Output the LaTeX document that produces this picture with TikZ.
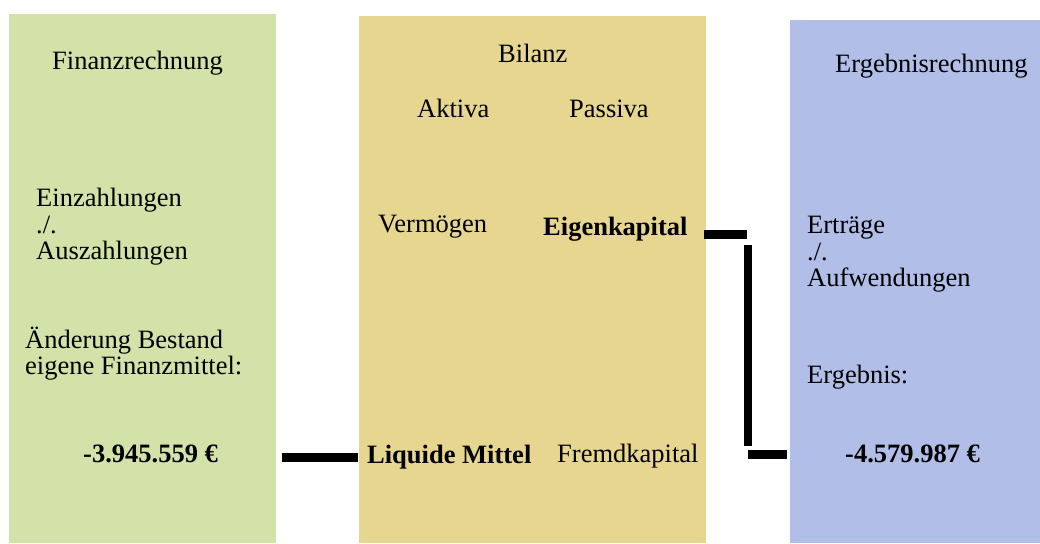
\documentclass[tikz,border=0pt]{standalone}
\usepackage{fontspec}
\setmainfont{Liberation Serif}
\definecolor{fgreen}{RGB}{210,226,168}
\definecolor{fbeige}{RGB}{230,214,144}
\definecolor{fblue}{RGB}{176,190,232}
\begin{document}
\begin{tikzpicture}[x=1pt,y=-1pt,
  txt/.style={anchor=base west, inner sep=0pt, font=\fontsize{26.5}{26.5}\selectfont},
  btxt/.style={txt, font=\fontsize{26.5}{26.5}\selectfont\bfseries},
  panel/.style={draw=none},
  bar/.style={line width=9pt, black}]
\useasboundingbox (0,0) rectangle (1040,543);
% panels
\fill[fgreen] (9,14) rectangle (276,543);
\fill[fbeige] (359,16) rectangle (706,543);
\fill[fblue] (790,20) rectangle (1040,543);
% left panel
\node[txt] (fin) at (52,69) {Finanzrechnung};
\node[txt] (ein) at (36,206) {Einzahlungen};
\node[txt] (sl1) at (36,233) {./.};
\node[txt] (aus) at (36,259) {Auszahlungen};
\node[txt] (aend) at (25,348) {Änderung Bestand};
\node[txt] (eig) at (25,374) {eigene Finanzmittel:};
\node[btxt] (fval) at (83,462) {-3.945.559 €};
% middle panel
\node[txt] (bil) at (498,63) {Bilanz};
\node[txt] (akt) at (417,117) {Aktiva};
\node[txt] (pas) at (569,117) {Passiva};
\node[txt] (verm) at (378,232) {Vermögen};
\node[btxt] (ek) at (543,235) {Eigenkapital};
\node[btxt] (liq) at (367,463) {Liquide Mittel};
\node[txt] (fk) at (557,462) {Fremdkapital};
% right panel
\node[txt] (erg) at (835,72) {Ergebnisrechnung};
\node[txt] (ertr) at (807,233) {Erträge};
\node[txt] (sl2) at (807,260) {./.};
\node[txt] (aufw) at (807,286) {Aufwendungen};
\node[txt] (ergb) at (807,383) {Ergebnis:};
\node[btxt] (eval) at (845,462) {-4.579.987 €};
% connectors
\coordinate (c1a) at (282,457.5);
\coordinate (c1b) at (358,457.5);
\coordinate (c2a) at (704,234.5);
\coordinate (c2b) at (747,234.5);
\coordinate (c3a) at (748,245);
\coordinate (c3b) at (748,446);
\coordinate (c4a) at (748,454);
\coordinate (c4b) at (787,454);
\draw[bar] (c1a) -- (c1b);
\draw[bar] (c2a) -- (c2b);
\draw[bar, line width=8pt] (c3a) -- (c3b);
\draw[bar] (c4a) -- (c4b);
\end{tikzpicture}
\end{document}
